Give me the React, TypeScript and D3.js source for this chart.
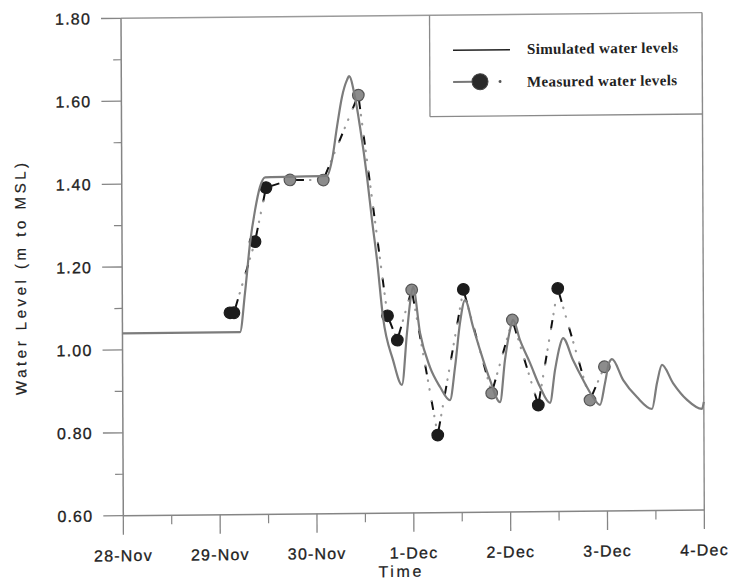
import React from 'react';
import * as d3 from 'd3';

// Axis ticks (days after 28-Nov, water level in m)
const dayTicks = [0, 1, 2, 3, 4, 5, 6];
const dayLabels = ['28-Nov', '29-Nov', '30-Nov', '1-Dec', '2-Dec', '3-Dec', '4-Dec'];
const dayMinor = [0.5, 1.5, 2.5, 3.5, 4.5, 5.5];
const levelTicks = [0.6, 0.8, 1.0, 1.2, 1.4, 1.6, 1.8];
const levelMinor = [0.7, 0.9, 1.1, 1.3, 1.5, 1.7];

// Simulated water levels
const simDay = [
  0, 1.214, 1.267, 1.322, 1.375, 1.427, 1.48, 2.12, 2.172, 2.225, 2.278, 2.331, 2.352,
  2.412, 2.463, 2.533, 2.582, 2.632, 2.691, 2.793, 2.884, 2.938, 2.971, 3.003, 3.073,
  3.174, 3.277, 3.379, 3.433, 3.486, 3.539, 3.621, 3.692, 3.793, 3.896, 3.949, 4.002,
  4.034, 4.105, 4.207, 4.309, 4.412, 4.465, 4.518, 4.549, 4.651, 4.754, 4.856, 4.928,
  4.981, 5.023, 5.054, 5.167, 5.31, 5.465, 5.518, 5.57, 5.683, 5.827, 5.981, 6.0,
];
const simLevel = [
  1.04, 1.04, 1.134, 1.255, 1.334, 1.39, 1.413, 1.415, 1.453, 1.533, 1.605, 1.646, 1.655,
  1.605, 1.532, 1.411, 1.308, 1.211, 1.073, 0.969, 0.909, 1.034, 1.106, 1.145, 1.034,
  0.951, 0.903, 0.871, 0.951, 1.057, 1.112, 1.047, 0.991, 0.919, 0.865, 0.967, 1.039,
  1.063, 1.014, 0.959, 0.901, 0.862, 0.941, 1.001, 1.018, 0.965, 0.917, 0.875, 0.856,
  0.909, 0.957, 0.966, 0.916, 0.874, 0.845, 0.908, 0.951, 0.907, 0.866, 0.844, 0.861,
];

// Measured water levels
const measDay = [
  1.111, 1.152, 1.373, 1.489, 1.737, 2.081, 2.447, 2.738, 2.838, 2.989, 3.251, 3.522,
  3.81, 4.027, 4.291, 4.497, 4.825, 4.975,
];
const measLevel = [
  1.087, 1.087, 1.258, 1.388, 1.406, 1.405, 1.609, 1.076, 1.017, 1.138, 0.787, 1.138,
  0.887, 1.063, 0.857, 1.138, 0.868, 0.948,
];

const legendLabels = ['Simulated water levels', 'Measured water levels'];
const yTitle = 'Water Level (m to MSL)';
const xTitle = 'Time';

function segDist(px: number, py: number, ax: number, ay: number, bx: number, by: number) {
  const dx = bx - ax, dy = by - ay;
  const l2 = dx * dx + dy * dy;
  let t = l2 ? ((px - ax) * dx + (py - ay) * dy) / l2 : 0;
  t = Math.max(0, Math.min(1, t));
  const qx = ax + t * dx, qy = ay + t * dy;
  return Math.hypot(px - qx, py - qy);
}

export default function App() {
  const W = 581;
  const H = 497.4;
  const x = d3.scaleLinear().domain([0, 6]).range([0, W]);
  const y = d3.scaleLinear().domain([0.6, 1.8]).range([0, -H]);

  const simPts: [number, number][] = simDay.map((d, i) => [d, simLevel[i]]);
  const measPts: [number, number][] = measDay.map((d, i) => [d, measLevel[i]]);

  const simLine = d3
    .line<[number, number]>()
    .x((d) => x(d[0]))
    .y((d) => y(d[1]))
    .curve(d3.curveMonotoneX);

  const simPx = simPts.map((p) => [x(p[0]), y(p[1])]);
  const nearSim = measPts.map((p) => {
    const px = x(p[0]), py = y(p[1]);
    let m = Infinity;
    for (let i = 0; i < simPx.length - 1; i++) {
      m = Math.min(m, segDist(px, py, simPx[i][0], simPx[i][1], simPx[i + 1][0], simPx[i + 1][1]));
    }
    return m < 4.3;
  });

  const axisColor = '#858585';
  const textColor = '#222';
  const sansFont = "'Liberation Sans', Arial, sans-serif";
  const serifFont = "'Liberation Serif', 'Times New Roman', serif";

  return (
    <svg
      width={731}
      height={581}
      style={{ position: 'absolute', left: 0, top: 0, display: 'block' }}
    >
      <rect x={0} y={0} width={731} height={581} fill="#fff" />
      <g transform="translate(123.3,515.7) matrix(1,-0.0098,0.0046,1,0,0)">
        {/* frame */}
        <line x1={0} y1={-H} x2={W} y2={-H} stroke="#9a9a9a" strokeWidth={1.4} />
        <line x1={W} y1={-H} x2={W} y2={0} stroke="#8a8a8a" strokeWidth={1.4} />
        <line x1={0} y1={0} x2={0} y2={-H} stroke={axisColor} strokeWidth={1.5} />
        <line x1={0} y1={0} x2={W} y2={0} stroke={axisColor} strokeWidth={1.5} />

        {/* y ticks */}
        {levelTicks.map((v) => (
          <g key={'yt' + v}>
            <line x1={-20} x2={0} y1={y(v)} y2={y(v)} stroke={axisColor} strokeWidth={1.3} />
            <text
              x={-30}
              y={y(v)}
              dy="0.36em"
              textAnchor="end"
              fontFamily={sansFont}
              fontSize={16}
              letterSpacing={1.2}
              fill={textColor}
              stroke={textColor}
              strokeWidth={0.3}
            >
              {v.toFixed(2)}
            </text>
          </g>
        ))}
        {levelMinor.map((v) => (
          <line key={'ym' + v} x1={-8} x2={0} y1={y(v)} y2={y(v)} stroke={axisColor} strokeWidth={1.2} />
        ))}

        {/* x ticks */}
        {dayTicks.map((d, i) => (
          <g key={'xt' + d}>
            <line x1={x(d)} x2={x(d)} y1={0} y2={19} stroke={axisColor} strokeWidth={1.3} />
            <text
              x={x(d)}
              y={45.5}
              textAnchor="middle"
              fontFamily={sansFont}
              fontSize={16}
              letterSpacing={1.2}
              fill={textColor}
              stroke={textColor}
              strokeWidth={0.3}
            >
              {dayLabels[i]}
            </text>
          </g>
        ))}
        {dayMinor.map((d) => (
          <line key={'xm' + d} x1={x(d)} x2={x(d)} y1={0} y2={9} stroke={axisColor} strokeWidth={1.2} />
        ))}

        {/* axis titles */}
        <text
          x={276.4}
          y={64}
          textAnchor="middle"
          fontFamily={sansFont}
          fontSize={16}
          textLength={43}
          lengthAdjust="spacing"
          fill={textColor}
          stroke={textColor}
          strokeWidth={0.2}
        >
          {xTitle}
        </text>
        <text
          transform="translate(-101.7,-237.7) rotate(-90)"
          textAnchor="middle"
          dy="0.36em"
          fontFamily={sansFont}
          fontSize={15}
          textLength={232}
          lengthAdjust="spacing"
          fill={textColor}
          stroke={textColor}
          strokeWidth={0.2}
        >
          {yTitle}
        </text>

        {/* legend box */}
        <line x1={308.5} y1={-H} x2={308.5} y2={-396} stroke="#8a8a8a" strokeWidth={1.3} />
        <line x1={308.5} y1={-396} x2={W} y2={-396} stroke="#8a8a8a" strokeWidth={1.3} />
        <line x1={331.8} x2={388.8} y1={-462.2} y2={-462.2} stroke="#222" strokeWidth={1.6} />
        <text
          x={405.8}
          y={-457.7}
          fontFamily={serifFont}
          fontWeight="bold"
          fontSize={15}
          textLength={151}
          lengthAdjust="spacing"
          fill={textColor}
        >
          {legendLabels[0]}
        </text>
        <line x1={331.8} x2={352} y1={-430.5} y2={-430.5} stroke="#777" strokeWidth={2} />
        <circle cx={358.7} cy={-430.5} r={8} fill="#2a2a2a" stroke="#444" strokeWidth={1} />
        <circle cx={378.7} cy={-430.5} r={1.5} fill="#555" />
        <text
          x={405.7}
          y={-425}
          fontFamily={serifFont}
          fontWeight="bold"
          fontSize={15}
          textLength={150}
          lengthAdjust="spacing"
          fill={textColor}
        >
          {legendLabels[1]}
        </text>

        {/* measured connecting line: dash-dot, restarted at each point */}
        {measPts.slice(0, -1).map((p, i) => {
          const q = measPts[i + 1];
          const dstr = `M${x(p[0])},${y(p[1])}L${x(q[0])},${y(q[1])}`;
          return (
            <g key={'ms' + i}>
              <path
                d={dstr}
                fill="none"
                stroke="#111"
                strokeWidth={2}
                strokeDasharray="9 27"
                strokeDashoffset={-5}
              />
              <path
                d={dstr}
                fill="none"
                stroke="#9a9a9a"
                strokeWidth={2.2}
                strokeLinecap="round"
                strokeDasharray="0 15 0.5 8.5 0.5 11.5"
                strokeDashoffset={-5}
              />
            </g>
          );
        })}

        {/* measured points */}
        {measPts.map((p, i) => (
          <circle
            key={'mp' + i}
            cx={x(p[0])}
            cy={y(p[1])}
            r={5.8}
            fill={nearSim[i] ? '#8c8c8c' : '#1c1c1c'}
            stroke={nearSim[i] ? '#555' : '#1c1c1c'}
            strokeWidth={1.2}
          />
        ))}

        {/* simulated line */}
        <path d={simLine(simPts) || ''} fill="none" stroke="#7c7c7c" strokeWidth={2.2} strokeLinejoin="round" />
      </g>
    </svg>
  );
}
